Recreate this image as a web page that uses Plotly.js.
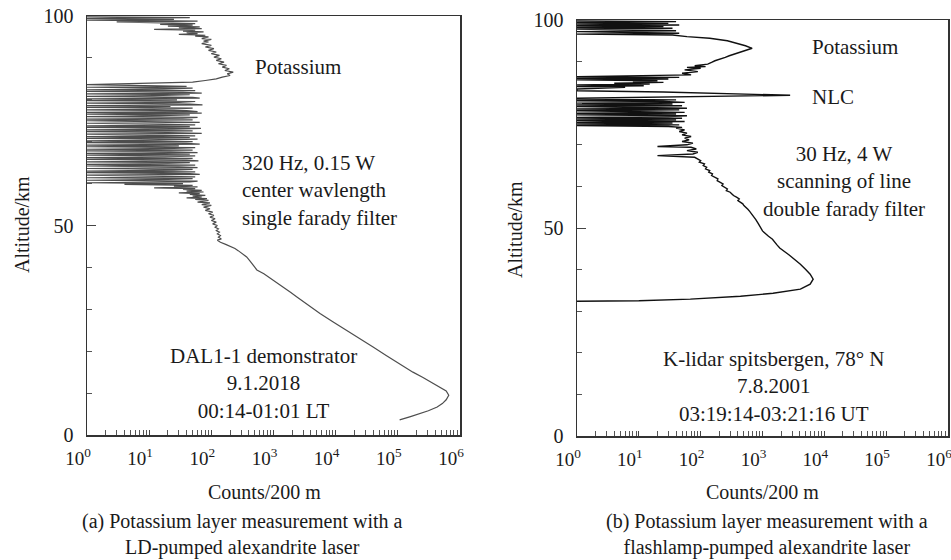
<!DOCTYPE html>
<html>
<head>
<meta charset="utf-8">
<script src="https://cdn.plot.ly/plotly-3.0.1.min.js"></script>
<style>html,body{margin:0;padding:0;background:#fff;}#chart{width:951px;height:560px;}</style>
</head>
<body>
<div id="chart"></div>
<script>
// ---- Panel (a): DAL1-1 demonstrator, LD-pumped alexandrite laser ----
const leftAlt = [
  99.8,99.6,99.4,99.2,99.0,98.8,98.6,98.4,98.2,98.0,97.8,97.6,97.4,97.2,97.0,96.8,96.6,96.4,96.2,96.0,
  95.8,95.6,95.4,95.2,95.0,94.6,94.4,94.0,93.8,93.4,93.0,92.6,92.2,91.8,91.4,91.0,90.6,90.2,89.8,89.4,
  89.0,88.6,88.2,87.8,87.4,87.0,86.6,86.2,85.8,85.4,85.0,84.6,84.2,83.6,
  83.4,83.2,83.0,82.8,82.6,82.4,82.2,82.0,81.8,81.6,81.4,81.2,81.0,80.8,80.6,80.4,80.2,80.0,79.8,79.6,
  79.4,79.2,79.0,78.8,78.6,78.4,78.2,78.0,77.8,77.6,77.4,77.2,77.0,76.8,76.6,76.4,76.2,76.0,75.8,75.6,
  75.4,75.2,75.0,74.8,74.6,74.4,74.2,74.0,73.8,73.6,73.4,73.2,73.0,72.8,72.6,72.4,72.2,72.0,71.8,71.6,
  71.4,71.2,71.0,70.8,70.6,70.4,70.2,70.0,69.8,69.6,69.4,69.2,69.0,68.8,68.6,68.4,68.2,68.0,67.8,67.6,
  67.4,67.2,67.0,66.8,66.6,66.4,66.2,66.0,65.8,65.6,65.4,65.2,65.0,64.8,64.6,64.4,64.2,64.0,63.8,63.6,
  63.4,63.2,63.0,62.8,62.6,62.4,62.2,62.0,61.8,61.6,61.4,61.2,61.0,60.8,60.6,60.4,60.2,60.0,
  59.8,59.6,59.4,59.2,59.0,58.8,58.6,58.4,58.2,58.0,57.8,57.6,57.4,57.2,57.0,56.8,56.6,56.4,56.2,56.0,
  55.6,55.4,55.0,54.8,54.4,54.0,53.6,53.2,52.8,52.4,52.0,51.6,51.2,50.8,50.4,50.0,49.6,49.2,48.8,48.4,
  48.0,47.6,47.2,46.8,46.5,46.0,45.5,45.0,44.5,44.0,43.5,43.0,42.5,41.5,40.5,39.4,38.5,37.5,37.0,36.0,
  35.0,34.0,33.0,31.0,29.0,27.0,25.0,23.0,21.0,19.0,17.0,15.0,13.8,12.5,11.5,10.5,9.5,8.4,7.5,6.7,
  5.8,5.2,4.4,3.6
];
const leftCounts = [
  1,45,1,25,1,60,3,40,55,15,50,20,65,30,70,12,55,35,75,40,
  60,30,80,55,90,70,100,75,90,70,100,80,110,90,120,100,135,110,145,120,
  160,130,175,150,195,165,225,180,200,150,120,80,50,1,
  25,40,1,50,18,1,55,1,35,70,1,45,12,1,50,65,1,28,1,55,
  30,1,45,72,1,22,1,50,25,1,40,60,1,70,1,45,15,1,60,35,
  1,50,1,28,65,1,30,55,1,45,1,68,25,1,50,1,20,70,1,35,
  55,1,45,1,60,15,1,50,1,40,65,1,30,1,55,25,1,50,1,22,
  60,1,45,1,55,18,1,50,1,40,62,1,45,20,1,55,1,30,60,1,
  50,25,1,55,1,45,65,1,30,55,1,50,20,1,60,45,1,35,
  4,50,25,60,12,55,35,70,40,75,30,65,45,80,50,70,40,85,55,90,
  60,95,70,100,75,95,80,105,90,110,95,115,100,120,105,125,115,130,120,135,
  125,140,130,145,125,140,170,210,240,270,300,330,370,420,470,540,700,880,980,1250,
  1550,1900,2350,3600,5600,9000,15000,24500,40000,65000,107000,175000,250000,350000,470000,600000,660000,600000,520000,430000,
  310000,224000,160000,107000
];

// ---- Panel (b): K-lidar Spitsbergen, flashlamp-pumped alexandrite laser ----
const rightAlt = [
  99.8,99.6,99.4,99.2,99.0,98.8,98.6,98.4,98.2,98.0,97.8,97.6,97.4,97.2,97.0,96.8,96.6,96.4,
  96.0,95.6,95.0,94.4,93.8,93.2,92.6,92.0,91.4,91.0,90.6,90.2,89.8,89.4,89.0,88.8,88.6,88.4,88.0,87.6,
  87.2,86.8,86.4,86.2,86.0,85.8,85.6,85.4,85.2,85.0,84.8,84.6,84.4,84.2,84.0,83.8,83.4,
  83.0,82.7,82.3,81.9,81.2,
  81.0,80.8,80.6,80.4,80.2,80.0,79.8,79.6,79.4,79.2,79.0,78.8,78.6,78.4,78.2,78.0,77.8,77.6,77.4,77.2,
  77.0,76.8,76.6,76.4,76.2,76.0,75.8,75.6,75.4,75.2,75.0,74.8,74.6,74.4,74.2,
  74.0,73.6,73.2,72.8,72.4,72.0,71.6,71.2,70.8,70.4,70.0,69.6,69.4,69.0,68.6,68.2,67.8,67.4,67.0,
  66.6,66.2,65.8,65.4,65.0,64.6,64.2,63.8,63.4,63.0,62.6,62.2,61.8,61.4,61.0,60.6,60.2,59.8,59.4,59.0,
  58.6,58.2,57.8,57.4,57.0,56.6,56.2,55.8,55.4,55.0,54.5,54.0,53.0,52.0,51.0,50.0,49.3,48.0,47.3,46.0,
  45.2,43.5,41.3,40.0,38.9,37.7,36.5,35.3,34.3,33.6,32.9,32.5,32.4
];
const rightCounts = [
  1,40,1,30,1,45,1,25,1,35,1,20,40,1,30,45,1,35,
  60,140,270,390,530,680,500,380,290,250,200,170,150,130,80,120,60,100,55,90,
  50,70,1,45,1,30,1,20,8,25,4,15,1,12,1,6,1,
  1,25,200,2800,1,
  1,40,1,25,55,1,35,1,50,1,30,60,1,45,1,35,55,1,40,1,
  60,30,1,50,1,40,1,55,1,35,1,45,1,30,50,
  40,55,45,60,50,70,55,65,50,75,60,20,70,85,60,90,75,20,80,
  90,100,95,115,110,125,120,140,135,155,150,175,190,185,210,230,220,250,270,260,
  300,320,340,380,420,400,450,480,500,540,580,620,700,780,860,940,1000,1250,1450,1700,
  1900,2700,4100,5000,5900,6600,5900,4100,1480,440,68,10,1
];

// ---- Axis tick labels ----
const decadeVals = [1,10,100,1000,10000,100000,1000000];
const decadeText = ['10<sup>0</sup>','10<sup>1</sup>','10<sup>2</sup>','10<sup>3</sup>','10<sup>4</sup>','10<sup>5</sup>','10<sup>6</sup>'];
const minorDigits = [2,3,4,5,6,7,8,9];
const altVals = [0,50,100];
const altText = ['0','50','100'];

// minor log tick positions built from the decades and digits
const minorVals = [];
decadeVals.slice(0, -1).forEach(d => minorDigits.forEach(m => minorVals.push(d * m)));

const W = 951, H = 560;
const fx = v => v / W;
const fy = v => 1 - v / H;
const FONT = '"Liberation Serif", "Times New Roman", serif';
const INK = '#1a1a1a';

const traces = [
  {x: leftCounts, y: leftAlt, xaxis: 'x', yaxis: 'y', mode: 'lines',
   line: {color: '#4d4d4d', width: 1.2}, hoverinfo: 'x+y', showlegend: false},
  {x: rightCounts, y: rightAlt, xaxis: 'x2', yaxis: 'y2', mode: 'lines',
   line: {color: '#111111', width: 1.4}, hoverinfo: 'x+y', showlegend: false}
];

function xAx(d0, d1, anchor) {
  return {
    domain: [fx(d0), fx(d1)], anchor: anchor, type: 'log', range: [-0.0005, 6.0005],
    tickmode: 'array', tickvals: decadeVals, ticktext: decadeText,
    ticks: 'inside', ticklen: 5, tickwidth: 1, tickcolor: '#444',
    minor: {tickmode: 'array', tickvals: minorVals, ticks: 'inside', ticklen: 5, tickwidth: 1, tickcolor: '#555', showgrid: false},
    showline: true, mirror: true, linecolor: '#333', linewidth: 1.5,
    showgrid: false, zeroline: false, automargin: false, ticklabeloverflow: 'allow',
    ticklabelshift: -9,
    tickfont: {family: FONT, size: 19, color: INK}, ticklabelstandoff: 6
  };
}
function yAx(top, bottom, anchor) {
  return {
    domain: [fy(bottom), fy(top)], anchor: anchor, range: [0, 100],
    tickmode: 'array', tickvals: altVals, ticktext: altText,
    ticks: 'inside', ticklen: 9, tickwidth: 1, tickcolor: '#444',
    minor: {dtick: 10, tick0: 0, ticks: 'inside', ticklen: 5, tickwidth: 1, tickcolor: '#555', showgrid: false},
    showline: true, mirror: true, linecolor: '#333', linewidth: 1.5,
    showgrid: false, zeroline: false, automargin: false, ticklabeloverflow: 'allow',
    tickfont: {family: FONT, size: 20, color: INK}, ticklabelstandoff: 8
  };
}

const txt = (text, x, y, opts) => Object.assign({
  text: text, xref: 'paper', yref: 'paper', x: fx(x), y: fy(y),
  xanchor: 'center', yanchor: 'middle', showarrow: false,
  font: {family: FONT, size: 21, color: INK}
}, opts || {});

const annotations = [
  // panel (a) labels
  txt('Potassium', 298, 67),
  txt('320 Hz, 0.15 W<br>center wavlength<br>single farady filter', 240, 190, {xanchor: 'left', align: 'left'}),
  txt('DAL1-1 demonstrator<br>9.1.2018<br>00:14-01:01 LT', 263, 383),
  // panel (b) labels
  txt('Potassium', 855, 47),
  txt('NLC', 810, 97, {xanchor: 'left'}),
  txt('30 Hz, 4 W<br>scanning of line<br>double farady filter', 844, 182),
  txt('K-lidar spitsbergen, 78° N<br>7.8.2001<br>03:19:14-03:21:16 UT', 773, 386),
  // axis titles
  txt('Altitude/km', 22, 225, {textangle: -90, font: {family: FONT, size: 20, color: INK}}),
  txt('Altitude/km', 515, 230, {textangle: -90, font: {family: FONT, size: 20, color: INK}}),
  txt('Counts/200 m', 264, 492, {font: {family: FONT, size: 20, color: INK}}),
  txt('Counts/200 m', 762, 492, {font: {family: FONT, size: 20, color: INK}}),
  // captions
  txt('(a) Potassium layer measurement with a<br>LD-pumped alexandrite laser', 242, 534, {font: {family: FONT, size: 20, color: INK}}),
  txt('(b) Potassium layer measurement with a<br>flashlamp-pumped alexandrite laser', 767, 534, {font: {family: FONT, size: 20, color: INK}})
];

const layout = {
  width: W, height: H,
  margin: {l: 0, r: 0, t: 0, b: 0, pad: 0},
  paper_bgcolor: '#ffffff', plot_bgcolor: '#ffffff',
  showlegend: false,
  xaxis: xAx(87, 460, 'y'),
  yaxis: yAx(16, 435, 'x'),
  xaxis2: xAx(577, 948, 'y2'),
  yaxis2: yAx(20, 436, 'x2'),
  annotations: annotations
};

Plotly.newPlot('chart', traces, layout, {displayModeBar: false, staticPlot: true});
</script>
</body>
</html>
